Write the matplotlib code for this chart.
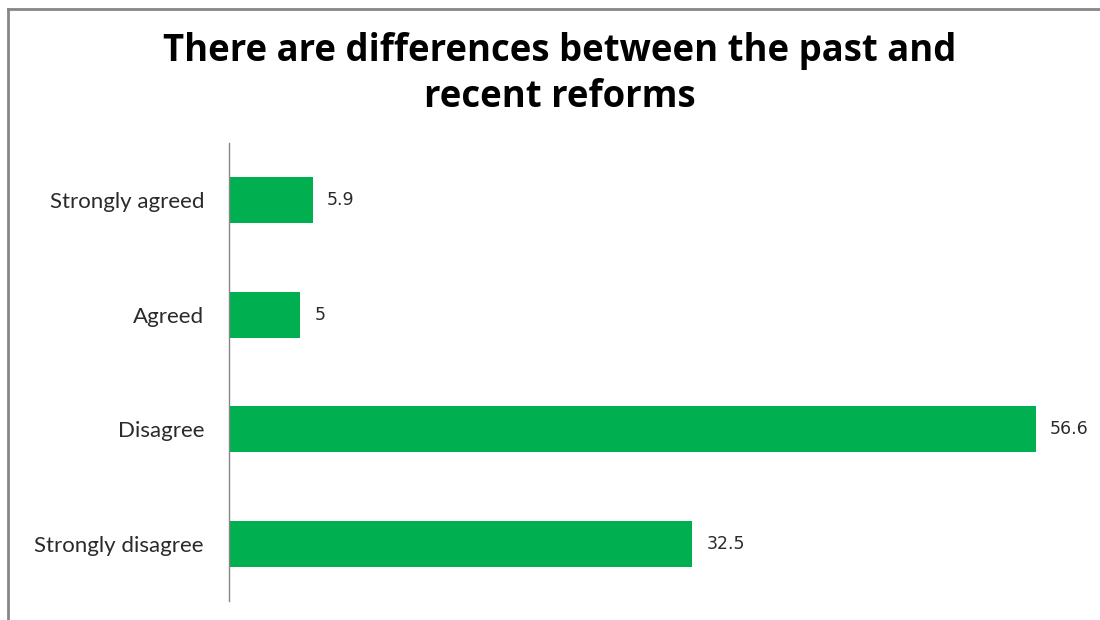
import matplotlib
matplotlib.use("Agg")
import matplotlib.pyplot as plt
from matplotlib.lines import Line2D

categories = ["Strongly agreed", "Agreed", "Disagree", "Strongly disagree"]
values = [5.9, 5, 56.6, 32.5]
value_labels = ["5.9", "5", "56.6", "32.5"]
title = "There are differences between the past and\nrecent reforms"

W, H = 1100, 620
fig = plt.figure(figsize=(W / 100, H / 100), dpi=100)
fig.patch.set_facecolor("white")

# outer chart border (left and top visible)
fig.add_artist(Line2D([7.5 / W, 7.5 / W], [0, 1 - 8.5 / H], transform=fig.transFigure,
                      color="#868686", lw=2))
fig.add_artist(Line2D([7.5 / W, 1], [1 - 8.5 / H, 1 - 8.5 / H], transform=fig.transFigure,
                      color="#868686", lw=2))

left, right = 229, 229 + 60 * (1036 - 229) / 56.6
top, bottom = 143, 601
ax = fig.add_axes([left / W, 1 - bottom / H, (right - left) / W, (bottom - top) / H])

ypos = list(range(len(categories)))
ax.barh(ypos, values, height=0.4, color="#00B050")
ax.set_ylim(len(categories) - 0.5, -0.5)
ax.set_xlim(0, 60)
ax.set_yticks(ypos)
ax.set_yticklabels(categories, fontsize=16, family="Lato", color="#2a2a2a")
ax.tick_params(axis="y", length=0, pad=18)
ax.set_xticks([])
for s in ["top", "right", "bottom"]:
    ax.spines[s].set_visible(False)
ax.spines["left"].set_color("#868686")
ax.spines["left"].set_linewidth(1)

for y, v, lab in zip(ypos, values, value_labels):
    ax.annotate(lab, (v, y), xytext=(14, 0), textcoords="offset pixels",
                va="center", ha="left", fontsize=12.5, color="#2a2a2a",
                family="DejaVu Sans")

fig.text(560 / W, 1 - 74 / H, title, ha="center", va="center", fontsize=26.3,
         fontweight="bold", family="Open Sans", linespacing=1.25)

fig.savefig("out.png", dpi=100)
